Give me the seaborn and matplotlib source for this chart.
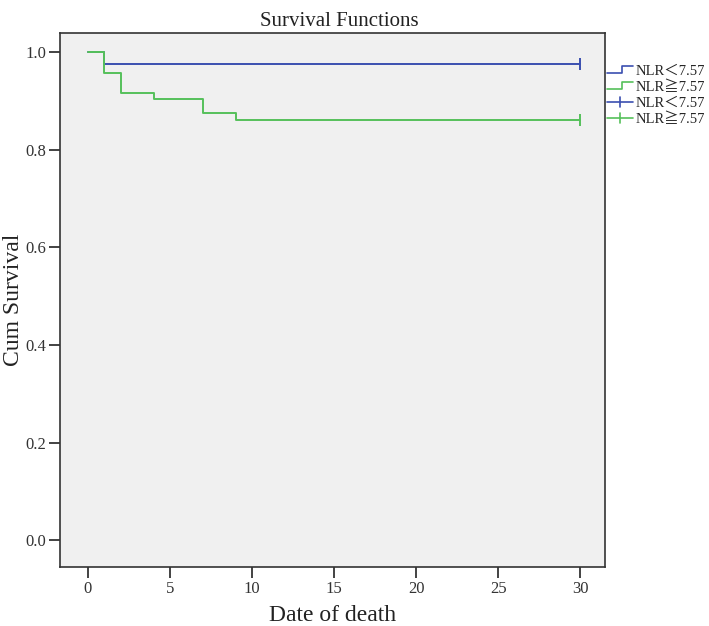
import matplotlib
matplotlib.use('Agg')

import matplotlib.pyplot as plt
import seaborn as sns
import pandas as pd
from matplotlib.lines import Line2D
from matplotlib.legend_handler import HandlerLine2D

# Kaplan-Meier steps
low_time = [0, 1, 30]
low_surv = [1.0, 0.975, 0.975]
high_time = [0, 1, 2, 4, 7, 9, 30]
high_surv = [1.0, 0.958, 0.917, 0.903, 0.875, 0.861, 0.861]
groups = ["NLR＜7.57", "NLR≧7.57"]
colors = ["#3b4fb0", "#55c05a"]
x_ticks = [0, 5, 10, 15, 20, 25, 30]
y_ticks = [0.0, 0.2, 0.4, 0.6, 0.8, 1.0]

sns.set_style("ticks")
plt.rcParams['font.family'] = ['Liberation Serif', 'Noto Sans CJK TC', 'DejaVu Sans']

df = pd.concat([
    pd.DataFrame({"time": low_time, "surv": low_surv, "group": groups[0]}),
    pd.DataFrame({"time": high_time, "surv": high_surv, "group": groups[1]}),
])

fig = plt.figure(figsize=(7.09, 6.26), dpi=100)
ax = fig.add_axes([60 / 709, 1 - 567 / 626, 545 / 709, 534 / 626])
ax.set_facecolor("#f0f0f0")

for g, c in zip(groups, colors):
    sub = df[df.group == g]
    sns.lineplot(data=sub, x="time", y="surv", ax=ax, color=c, drawstyle="steps-post",
                 estimator=None, sort=False, linewidth=1.4, legend=False)
    ax.plot(sub.time.iloc[-1], sub.surv.iloc[-1], marker="|", color=c, markersize=9,
            markeredgewidth=1.4)

ax.set_xlim(-1.7, 31.5)
ax.set_ylim(-0.055, 1.039)
ax.set_xticks(x_ticks)
ax.set_yticks(y_ticks)
ax.set_yticklabels([f"{v:.1f}" for v in y_ticks])
ax.tick_params(direction="out", length=8, width=1.2, labelsize=12, color="#222222",
               labelcolor="#333333", pad=2)
for s in ax.spines.values():
    s.set_color("#333333")
    s.set_linewidth(1.2)
ax.set_xlabel("Date of death", fontsize=17, labelpad=6, color="#222222")
ax.set_ylabel("Cum Survival", fontsize=17, color="#222222")
ax.yaxis.set_label_coords(-0.066, 0.5)
ax.set_title("Survival Functions", fontsize=15, pad=5, x=0.513, color="#222222")


class StepHandler(HandlerLine2D):
    def create_artists(self, legend, orig_handle, xdescent, ydescent, width, height, fontsize, trans):
        h = height
        xs = [0, width * 0.6, width * 0.6, width]
        ys = [h * 0.2, h * 0.2, h * 0.9, h * 0.9]
        line = Line2D(xs, ys, color=orig_handle.get_color(), linewidth=1.2, transform=trans)
        return [line]


class PlusHandler(HandlerLine2D):
    def create_artists(self, legend, orig_handle, xdescent, ydescent, width, height, fontsize, trans):
        h = height
        line = Line2D([0, width], [h / 2, h / 2], color=orig_handle.get_color(), linewidth=1.2,
                      transform=trans)
        tick = Line2D([width / 2, width / 2], [0, h], color=orig_handle.get_color(), linewidth=1.2,
                      transform=trans)
        return [line, tick]


step_handles = [Line2D([], [], color=c) for c in colors]
plus_handles = [Line2D([], [], color=c) for c in colors]
handler_map = {h: StepHandler() for h in step_handles}
handler_map.update({h: PlusHandler() for h in plus_handles})

fig.legend(step_handles + plus_handles, groups + groups, handler_map=handler_map,
           loc="upper left", bbox_to_anchor=(607 / 709, 1 - 65 / 626), frameon=False,
           fontsize=10.5, handlelength=1.75, handletextpad=0.2, labelspacing=0.18,
           borderaxespad=0, borderpad=0)

fig.savefig("out.png", dpi=100)
